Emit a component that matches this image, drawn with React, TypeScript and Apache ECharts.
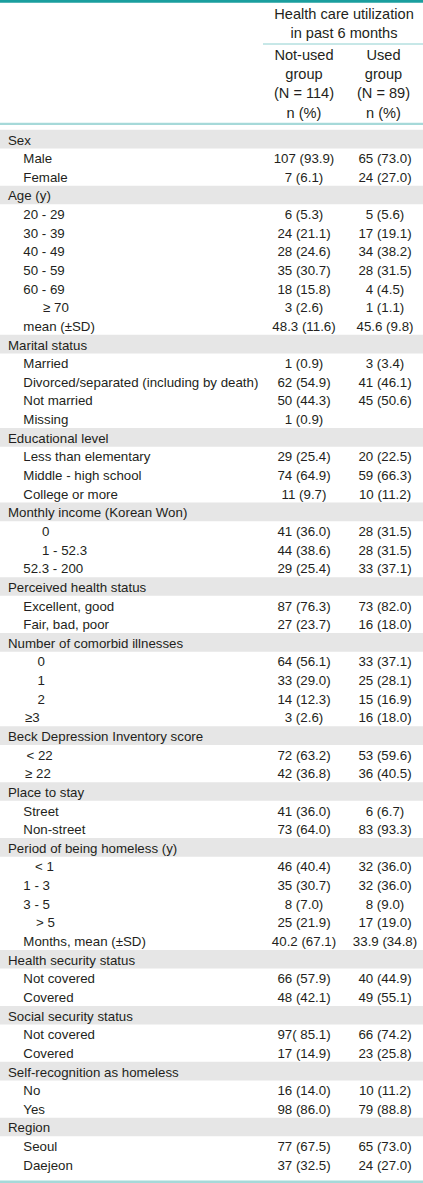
import React, { useEffect, useRef } from "react";
import * as echarts from "echarts";

const headerTitle = ["Health care utilization", "in past 6 months"];
const groupHeads = [
  ["Not-used", "group", "(N = 114)", "n (%)"],
  ["Used", "group", "(N = 89)", "n (%)"],
];

const rowLabels = [
  "Sex", "Male", "Female",
  "Age (y)", "20 - 29", "30 - 39", "40 - 49", "50 - 59", "60 - 69", "≥ 70", "mean (±SD)",
  "Marital status", "Married", "Divorced/separated (including by death)", "Not married", "Missing",
  "Educational level", "Less than elementary", "Middle - high school", "College or more",
  "Monthly income (Korean Won)", "0", "1 - 52.3", "52.3 - 200",
  "Perceived health status", "Excellent, good", "Fair, bad, poor",
  "Number of comorbid illnesses", "0", "1", "2", "≥3",
  "Beck Depression Inventory score", "< 22", "≥ 22",
  "Place to stay", "Street", "Non-street",
  "Period of being homeless (y)", "< 1", "1 - 3", "3 - 5", "> 5", "Months, mean (±SD)",
  "Health security status", "Not covered", "Covered",
  "Social security status", "Not covered", "Covered",
  "Self-recognition as homeless", "No", "Yes",
  "Region", "Seoul", "Daejeon",
];

const isGroupRow = [
  1, 0, 0,
  1, 0, 0, 0, 0, 0, 0, 0,
  1, 0, 0, 0, 0,
  1, 0, 0, 0,
  1, 0, 0, 0,
  1, 0, 0,
  1, 0, 0, 0, 0,
  1, 0, 0,
  1, 0, 0,
  1, 0, 0, 0, 0, 0,
  1, 0, 0,
  1, 0, 0,
  1, 0, 0,
  1, 0, 0,
];

const notUsedValues = [
  "", "107 (93.9)", "7 (6.1)",
  "", "6 (5.3)", "24 (21.1)", "28 (24.6)", "35 (30.7)", "18 (15.8)", "3 (2.6)", "48.3 (11.6)",
  "", "1 (0.9)", "62 (54.9)", "50 (44.3)", "1 (0.9)",
  "", "29 (25.4)", "74 (64.9)", "11 (9.7)",
  "", "41 (36.0)", "44 (38.6)", "29 (25.4)",
  "", "87 (76.3)", "27 (23.7)",
  "", "64 (56.1)", "33 (29.0)", "14 (12.3)", "3 (2.6)",
  "", "72 (63.2)", "42 (36.8)",
  "", "41 (36.0)", "73 (64.0)",
  "", "46 (40.4)", "35 (30.7)", "8 (7.0)", "25 (21.9)", "40.2 (67.1)",
  "", "66 (57.9)", "48 (42.1)",
  "", "97( 85.1)", "17 (14.9)",
  "", "16 (14.0)", "98 (86.0)",
  "", "77 (67.5)", "37 (32.5)",
];

const usedValues = [
  "", "65 (73.0)", "24 (27.0)",
  "", "5 (5.6)", "17 (19.1)", "34 (38.2)", "28 (31.5)", "4 (4.5)", "1 (1.1)", "45.6 (9.8)",
  "", "3 (3.4)", "41 (46.1)", "45 (50.6)", "",
  "", "20 (22.5)", "59 (66.3)", "10 (11.2)",
  "", "28 (31.5)", "28 (31.5)", "33 (37.1)",
  "", "73 (82.0)", "16 (18.0)",
  "", "33 (37.1)", "25 (28.1)", "15 (16.9)", "16 (18.0)",
  "", "53 (59.6)", "36 (40.5)",
  "", "6 (6.7)", "83 (93.3)",
  "", "32 (36.0)", "32 (36.0)", "8 (9.0)", "17 (19.0)", "33.9 (34.8)",
  "", "40 (44.9)", "49 (55.1)",
  "", "66 (74.2)", "23 (25.8)",
  "", "10 (11.2)", "79 (88.8)",
  "", "65 (73.0)", "24 (27.0)",
];

// layout (not data)
const W = 423;
const H = 1183;
const FONT = "'Liberation Sans', Arial, Helvetica, sans-serif";
const BODY_SIZE = 13.3;
const HEAD_SIZE = 14.6;
const ROW0 = 140;
const ROW_H = 18.64;
const COL_X = [304, 385];
const HEAD_CENTER = 344;
const specialIndent: Record<number, number> = {
  9: 43, 21: 42, 22: 42, 28: 37.5, 29: 37.5, 30: 37.5, 31: 25, 33: 26.5, 34: 25, 39: 35, 42: 36,
};

export default function App() {
  const ref = useRef<HTMLDivElement>(null);
  useEffect(() => {
    if (!ref.current) return;
    const chart = echarts.init(ref.current, undefined, { renderer: "svg" });
    const els: any[] = [];
    const txt = (x: number, y: number, s: string, align: string, size: number) => ({
      type: "text",
      x,
      y,
      silent: true,
      style: {
        text: s,
        fill: "#231f20",
        font: `${size}px ${FONT}`,
        align,
        verticalAlign: "middle",
      },
    });
    // top thick rule
    els.push({ type: "rect", shape: { x: 0, y: 0, width: W, height: 2.7 }, style: { fill: "#1a9e9e" }, silent: true });
    // header
    headerTitle.forEach((t, i) => els.push(txt(HEAD_CENTER, 13.5 + i * 19, t, "center", HEAD_SIZE)));
    els.push({ type: "line", shape: { x1: 263, y1: 44, x2: W, y2: 44 }, style: { stroke: "#8fd0d0", lineWidth: 1 }, silent: true });
    groupHeads.forEach((g, c) =>
      g.forEach((t, i) => els.push(txt(c === 0 ? 304 : 383.5, 54.5 + i * 19.4, t, "center", HEAD_SIZE)))
    );
    els.push({ type: "rect", shape: { x: 0, y: 122.7, width: W, height: 2.4 }, style: { fill: "#a6d9d9" }, silent: true });
    // rows
    rowLabels.forEach((label, i) => {
      const y = ROW0 + i * ROW_H;
      if (isGroupRow[i]) {
        els.push({
          type: "rect",
          shape: { x: 0, y: y - 10.2, width: W, height: ROW_H },
          style: { fill: "#e6e6e6" },
          silent: true,
          z: -1,
        });
      }
      const x = isGroupRow[i] ? 8 : specialIndent[i] ?? 23.3;
      els.push(txt(x, y, label, "left", BODY_SIZE));
      if (notUsedValues[i]) els.push(txt(COL_X[0], y, notUsedValues[i], "center", BODY_SIZE));
      if (usedValues[i]) els.push(txt(COL_X[1], y, usedValues[i], "center", BODY_SIZE));
    });
    // bottom rule
    els.push({ type: "rect", shape: { x: 0, y: 1180.6, width: W, height: 2.4 }, style: { fill: "#a6d9d9" }, silent: true });
    chart.setOption({ animation: false, graphic: { elements: els } });
    return () => chart.dispose();
  }, []);
  return (
    <div
      ref={ref}
      style={{ position: "absolute", left: 0, top: 0, width: W, height: H, background: "#ffffff" }}
    />
  );
}
